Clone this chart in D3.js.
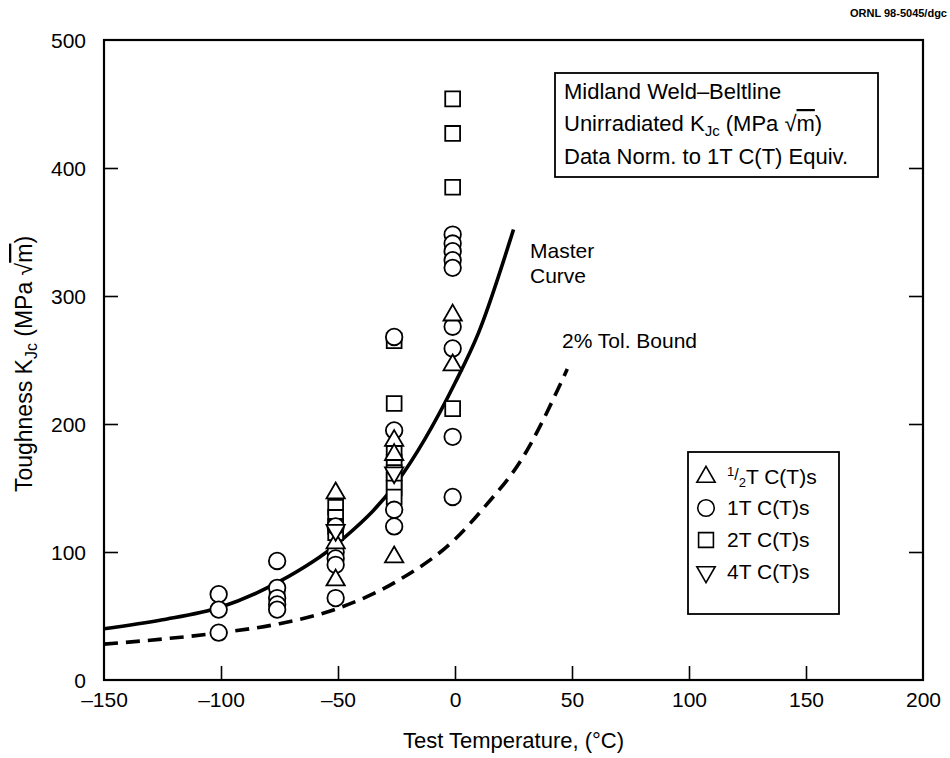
<!DOCTYPE html>
<html>
<head>
<meta charset="utf-8">
<script src="https://cdn.jsdelivr.net/npm/d3@7"></script>
<style>
  body { margin: 0; background: #fff; }
  text { font-family: "Liberation Sans", Arial, Helvetica, sans-serif; fill: #000; }
</style>
</head>
<body>
<svg id="chart" width="950" height="758"></svg>
<script>
// Axis ticks
const xTicks = [-150, -100, -50, 0, 50, 100, 150, 200];
const yTicks = [0, 100, 200, 300, 400, 500];

// Master curve (median KJc) and 2% tolerance bound, read at selected temperatures
const masterTemp = [-150, -125, -100, -75, -50, -25, 0, 10, 25];
const masterK    = [40, 47, 57, 77, 107, 154, 232, 271, 352];
const boundTemp  = [-150, -125, -100, -75, -50, -25, 0, 13, 28, 48];
const boundK     = [28, 32, 37, 44, 56, 77, 110, 136, 171, 243];

// 1/2T C(T) specimens
const halfTTemp = [-51, -51, -51, -26, -26, -26, -1, -1];
const halfTK    = [146, 107, 78, 187, 176, 96, 285, 246];
// 1T C(T) specimens
const oneTTemp = [-101, -101, -101, -76, -76, -76, -76, -76, -51, -51, -51, -51, -51,
                  -26, -26, -26, -26, -1, -1, -1, -1, -1, -1, -1, -1, -1];
const oneTK    = [67, 55, 37, 93, 72, 64, 59, 55, 120, 100, 95, 90, 64,
                  268, 195, 133, 120, 348, 341, 335, 328, 322, 276, 259, 190, 143];
// 2T C(T) specimens
const twoTTemp = [-76, -51, -51, -51, -51, -26, -26, -26, -26, -26, -26, -26, -26, -1, -1, -1, -1];
const twoTK    = [68, 135, 127, 120, 115, 265, 216, 177, 170, 162, 156, 150, 143, 454, 427, 385, 212];
// 4T C(T) specimens
const fourTTemp = [-51, -26];
const fourTK    = [117, 162];

const legendLabels = ["T C(T)s", "1T C(T)s", "2T C(T)s", "4T C(T)s"];

const svg = d3.select("#chart");
const M = { left: 104, right: 923, top: 40, bottom: 680 };

const x = d3.scaleLinear().domain([-150, 200]).range([M.left, M.right]);
const y = d3.scaleLinear().domain([0, 500]).range([M.bottom, M.top]);

// Frame
svg.append("rect")
  .attr("x", M.left).attr("y", M.top)
  .attr("width", M.right - M.left).attr("height", M.bottom - M.top)
  .attr("fill", "none").attr("stroke", "#000").attr("stroke-width", 2.2);

// Bottom axis: inward ticks
const xAxis = svg.append("g").attr("transform", `translate(0,${M.bottom})`)
  .call(d3.axisBottom(x).tickValues(xTicks).tickSizeInner(-14).tickSizeOuter(0)
    .tickFormat(d => d < 0 ? "\u2013" + Math.abs(d) : d));
xAxis.select(".domain").remove();
xAxis.selectAll(".tick line").attr("stroke-width", 1.6)
  .filter(d => d === -150 || d === 200).remove();
xAxis.selectAll(".tick text").attr("font-size", 21).attr("dy", 0).attr("y", 27);

// Left axis: inward ticks
const yAxis = svg.append("g").attr("transform", `translate(${M.left},0)`)
  .call(d3.axisLeft(y).tickValues(yTicks).tickSizeInner(-14).tickSizeOuter(0));
yAxis.select(".domain").remove();
yAxis.selectAll(".tick line").attr("stroke-width", 1.6)
  .filter(d => d === 0 || d === 500).remove();
yAxis.selectAll(".tick text").attr("font-size", 21).attr("x", -18).attr("dy", "0.35em");

// Right axis: inward ticks, no labels
const yAxisR = svg.append("g").attr("transform", `translate(${M.right},0)`)
  .call(d3.axisRight(y).tickValues(yTicks.filter(d => d > 0 && d < 500)).tickSizeInner(-14).tickSizeOuter(0).tickFormat(""));
yAxisR.select(".domain").remove();
yAxisR.selectAll(".tick line").attr("stroke-width", 1.6);

// Curves
const line = d3.line().x(d => x(d[0])).y(d => y(d[1])).curve(d3.curveMonotoneX);
svg.append("path")
  .datum(masterTemp.map((t, i) => [t, masterK[i]]))
  .attr("d", line).attr("fill", "none").attr("stroke", "#000").attr("stroke-width", 3.6);
svg.append("path")
  .datum(boundTemp.map((t, i) => [t, boundK[i]]))
  .attr("d", line).attr("fill", "none").attr("stroke", "#000").attr("stroke-width", 3.6)
  .attr("stroke-dasharray", "14,8");

// Marker shapes
const sym = {
  up:     d3.symbol().type(d3.symbolTriangle).size(145),
  circle: d3.symbol().type(d3.symbolCircle).size(215),
  square: d3.symbol().type(d3.symbolSquare).size(220),
  down:   d3.symbol().type(d3.symbolTriangle).size(145)
};
function drawSeries(temps, ks, kind) {
  const pts = temps.map((t, i) => [t, ks[i]]).sort((a, b) => b[1] - a[1]);
  svg.append("g").selectAll("path").data(pts).join("path")
    .attr("d", sym[kind]())
    .attr("transform", d => `translate(${x(d[0])},${y(d[1])})${kind === "down" ? " rotate(180)" : ""}`)
    .attr("fill", "#fff").attr("stroke", "#000").attr("stroke-width", 1.8);
}
drawSeries(twoTTemp, twoTK, "square");
drawSeries(oneTTemp, oneTK, "circle");
drawSeries(halfTTemp, halfTK, "up");
drawSeries(fourTTemp, fourTK, "down");

// Curve labels
svg.append("text").attr("x", 530).attr("y", 258).attr("font-size", 21).text("Master");
svg.append("text").attr("x", 530).attr("y", 283).attr("font-size", 21).text("Curve");
svg.append("text").attr("x", 562).attr("y", 348).attr("font-size", 21).text("2% Tol. Bound");

// Info box
svg.append("rect").attr("x", 555).attr("y", 73).attr("width", 323).attr("height", 104)
  .attr("fill", "#fff").attr("stroke", "#000").attr("stroke-width", 1.8);
svg.append("text").attr("x", 564).attr("y", 99).attr("font-size", 22).text("Midland Weld\u2013Beltline");
const t2 = svg.append("text").attr("x", 564).attr("y", 131).attr("font-size", 22);
t2.append("tspan").text("Unirradiated K");
t2.append("tspan").attr("font-size", 15).attr("dy", 5).text("Jc");
t2.append("tspan").attr("dy", -5).text(" (MPa \u221A");
t2.append("tspan").attr("text-decoration", "overline").text("m");
t2.append("tspan").text(")");
svg.append("text").attr("x", 564).attr("y", 164).attr("font-size", 22).text("Data Norm. to 1T C(T) Equiv.");

// Legend
const lg = svg.append("g");
lg.append("rect").attr("x", 688).attr("y", 452).attr("width", 151).attr("height", 162)
  .attr("fill", "#fff").attr("stroke", "#000").attr("stroke-width", 1.8);
const kinds = ["up", "circle", "square", "down"];
const rowY = [477, 508, 540, 572];
kinds.forEach((k, i) => {
  lg.append("path").attr("d", sym[k]())
    .attr("transform", `translate(706,${rowY[i]})${k === "down" ? " rotate(180)" : ""}`)
    .attr("fill", "#fff").attr("stroke", "#000").attr("stroke-width", 1.6);
  const t = lg.append("text").attr("x", 727).attr("y", rowY[i] + 7).attr("font-size", 21);
  if (i === 0) {
    t.append("tspan").attr("font-size", 13).attr("dy", -8).text("1");
    t.append("tspan").attr("font-size", 16).attr("dy", 4).text("/");
    t.append("tspan").attr("font-size", 13).attr("dy", 7).text("2");
    t.append("tspan").attr("dy", -3).text(legendLabels[i]);
  } else {
    t.text(legendLabels[i]);
  }
});

// Axis titles
svg.append("text").attr("x", (M.left + M.right) / 2).attr("y", 748).attr("text-anchor", "middle")
  .attr("font-size", 22).text("Test Temperature, (\u00B0C)");
const yt = svg.append("text").attr("transform", "translate(32,364) rotate(-90)")
  .attr("text-anchor", "middle").attr("font-size", 23);
yt.append("tspan").text("Toughness K");
yt.append("tspan").attr("font-size", 16).attr("dy", 5).text("Jc");
yt.append("tspan").attr("dy", -5).text(" (MPa \u221A");
yt.append("tspan").attr("text-decoration", "overline").text("m");
yt.append("tspan").text(")");

// Figure tag
svg.append("text").attr("x", 947).attr("y", 17).attr("text-anchor", "end")
  .attr("font-size", 11).attr("font-weight", "bold").text("ORNL 98-5045/dgc");
</script>
</body>
</html>
